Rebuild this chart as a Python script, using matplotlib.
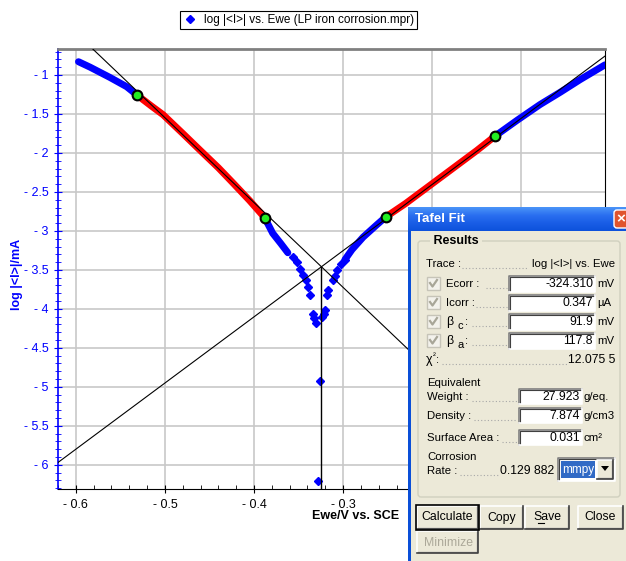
import matplotlib
matplotlib.use('Agg')
import matplotlib.pyplot as plt
import numpy as np
from matplotlib.patches import Rectangle, FancyBboxPatch, Polygon
from matplotlib.lines import Line2D
from matplotlib.ticker import MultipleLocator, FuncFormatter
from matplotlib.colors import LinearSegmentedColormap

plt.rcParams['font.family'] = ['Liberation Sans', 'DejaVu Sans']

# Tafel fit results (from the dialog)
e_corr = -0.32431   # V
i_corr = 0.347e-3   # mA
beta_c = 0.0919     # V/decade
beta_a = 0.1178     # V/decade

cath_e = [-0.597, -0.584, -0.562, -0.543, -0.531]
cath_y = [-0.83, -0.90, -1.03, -1.15, -1.26]
cath_fit_e = [-0.531, -0.515, -0.502, -0.480, -0.461, -0.440, -0.424, -0.405, -0.388]
cath_fit_y = [-1.26, -1.40, -1.51, -1.75, -1.96, -2.19, -2.38, -2.61, -2.83]
cath_tail_e = [-0.388, -0.379, -0.370, -0.362]
cath_tail_y = [-2.83, -3.03, -3.16, -3.28]

# scattered points close to Ecorr
near_e = [-0.356, -0.352, -0.348, -0.345, -0.342, -0.339, -0.337, -0.334, -0.333,
          -0.330, -0.326, -0.328, -0.324, -0.3215, -0.320, -0.318, -0.3165,
          -0.311, -0.309, -0.307, -0.302, -0.298]
near_y = [-3.34, -3.40, -3.49, -3.56, -3.63, -3.72, -3.82, -4.06, -4.12,
          -4.18, -4.92, -6.21, -4.10, -4.06, -4.02, -3.82, -3.76,
          -3.63, -3.58, -3.50, -3.43, -3.37]

anod_e = [-0.298, -0.290, -0.2775, -0.262, -0.252]
anod_y = [-3.37, -3.24, -3.08, -2.92, -2.82]
anod_fit_e = [-0.252, -0.230, -0.210, -0.190, -0.170, -0.150, -0.129]
anod_fit_y = [-2.82, -2.65, -2.48, -2.31, -2.14, -1.97, -1.78]
anod_tail_e = [-0.129, -0.1045, -0.079, -0.056, -0.034, -0.006]
anod_tail_y = [-1.78, -1.58, -1.38, -1.22, -1.06, -0.87]

xlim = (-0.62, -0.006)
ylim = (-6.31, -0.667)

fig = plt.figure(figsize=(6.26, 5.61), dpi=100)
W, H = 626, 561
ax = fig.add_axes([58 / W, 1 - 489 / H, (605 - 58) / W, (489 - 49) / H])

blue = '#0000ff'
red = '#ff0000'
band = dict(lw=5, solid_capstyle='round', solid_joinstyle='round')

ax.plot(cath_e, cath_y, color=blue, **band, zorder=3)
ax.plot(cath_tail_e, cath_tail_y, color=blue, **band, zorder=3)
ax.plot(anod_e, anod_y, color=blue, **band, zorder=3)
ax.plot(anod_tail_e, anod_tail_y, color=blue, **band, zorder=3)
pts, = ax.plot(near_e, near_y, 'D', color=blue, ms=4.5, ls='none', zorder=3,
               label='log |<I>| vs. Ewe (LP iron corrosion.mpr)')
ax.plot(cath_fit_e, cath_fit_y, color=red, **band, zorder=4)
ax.plot(anod_fit_e, anod_fit_y, color=red, **band, zorder=4)

# Tafel lines
log_icorr = np.log10(i_corr)
ex = np.array(xlim)
ax.plot(ex, log_icorr - (ex - e_corr) / beta_c, color='black', lw=0.8, zorder=5)
ax.plot(ex, log_icorr + (ex - e_corr) / beta_a, color='black', lw=0.8, zorder=5)
ax.plot([e_corr, e_corr], [log_icorr, ylim[0]], color='black', lw=1, zorder=5)

# fit limits
lim_e = [cath_fit_e[0], cath_fit_e[-1], anod_fit_e[0], anod_fit_e[-1]]
lim_y = [cath_fit_y[0], cath_fit_y[-1], anod_fit_y[0], anod_fit_y[-1]]
ax.plot(lim_e, lim_y, 'o', ms=7, mfc='#22ee22', mec='black', mew=1.5, zorder=6)

ax.set_xlim(*xlim)
ax.set_ylim(*ylim)
ax.xaxis.set_major_locator(MultipleLocator(0.1))
ax.xaxis.set_minor_locator(MultipleLocator(0.02))
ax.yaxis.set_major_locator(MultipleLocator(0.5))
ax.yaxis.set_minor_locator(MultipleLocator(0.1))
fmt = FuncFormatter(lambda v, p: ('- ' if v < -1e-9 else '') + f'{abs(v):g}')
ax.xaxis.set_major_formatter(fmt)
ax.yaxis.set_major_formatter(fmt)
ax.grid(True, color='#c8c8c8', lw=1.2, zorder=0)
ax.tick_params(axis='y', which='major', direction='inout', length=6, color=blue,
               labelcolor=blue, labelsize=9, pad=4)
ax.tick_params(axis='y', which='minor', direction='inout', length=4, color=blue)
ax.tick_params(axis='x', which='major', direction='inout', length=6, labelsize=9, pad=4)
ax.tick_params(axis='x', which='minor', direction='in', length=3)
ax.spines['left'].set_color(blue)
ax.spines['left'].set_linewidth(1.2)
ax.spines['top'].set_color('#808080')
ax.spines['top'].set_linewidth(2)

fig.text(17 / W, 1 - 274 / H, 'log |<I>|/mA', rotation=90, ha='center', va='center',
         color=blue, fontsize=9, weight='bold')
fig.text(399 / W, 1 - 516 / H, 'Ewe/V vs. SCE', ha='right', va='center',
         fontsize=9, weight='bold')

leg = ax.legend(handles=[pts], loc='center', bbox_to_anchor=(298.5 / W, 1 - 20 / H),
                bbox_transform=fig.transFigure, fontsize=8.5, fancybox=False,
                edgecolor='black', framealpha=1, borderpad=0.25, handlelength=1.2,
                handletextpad=0.6, borderaxespad=0)
leg.get_frame().set_linewidth(0.8)

# ---- Tafel Fit dialog drawn over the chart (pixel coordinates) ----
ov = fig.add_axes([0, 0, 1, 1], zorder=10)
ov.set_xlim(0, W)
ov.set_ylim(H, 0)
ov.axis('off')

body = '#ece9d8'
ov.add_patch(Rectangle((408, 207), 230, 360, fc='#0a4fd8', ec='none'))
grad = np.linspace(0, 1, 24).reshape(-1, 1)
tb = LinearSegmentedColormap.from_list('tb', ['#4a93f8', '#2a6ff0', '#1a5ee6', '#0d52dc'])
ov.imshow(grad, extent=(408, 630, 231, 207), aspect='auto', cmap=tb, zorder=1)
ov.add_patch(Rectangle((411, 231), 220, 340, fc=body, ec='none', zorder=2))
ov.text(415, 219, 'Tafel Fit', color='white', fontsize=9.5, weight='bold',
        ha='left', va='center', zorder=3)
ov.add_patch(FancyBboxPatch((614, 210), 18, 18, boxstyle='round,pad=0,rounding_size=3',
                            fc='#e0542e', ec='white', lw=1, zorder=3))
ov.text(621, 219, '×', color='white', fontsize=11, weight='bold', ha='center',
        va='center', zorder=4)
ov.set_xlim(0, W)
ov.set_ylim(H, 0)

ov.add_patch(FancyBboxPatch((418, 241), 202, 256, boxstyle='round,pad=0,rounding_size=3',
                            fc='none', ec='#d0d0bf', lw=1, zorder=3))
ov.text(430, 241, ' Results ', fontsize=9, weight='bold', ha='left', va='center',
        zorder=4, bbox=dict(fc=body, ec='none', pad=0))

fs = 8.2
dot = dict(color='#a8a8a8', lw=0.8, ls=(0, (1, 2)), zorder=4)


def txt(x, y, s, ha='left', z=8, **kw):
    ov.text(x, y, s, fontsize=kw.pop('fontsize', fs), ha=ha, va='center', zorder=z, **kw)


def leader(x0, x1, y):
    ov.plot([x0, x1], [y + 4, y + 4], **dot)


def sunken(x0, y0, x1, y1, face='white'):
    ov.add_patch(Rectangle((x0, y0), x1 - x0, y1 - y0, fc=face, ec='none', zorder=4))
    ov.plot([x0, x0, x1], [y1, y0, y0], color='#808080', lw=1.2, zorder=5)
    ov.plot([x0 + 1, x0 + 1, x1 - 1], [y1 - 1, y0 + 1, y0 + 1], color='#404040', lw=0.8, zorder=5)
    ov.plot([x0, x1, x1], [y1, y1, y0], color='#ffffff', lw=1.2, zorder=5)


def raised(x0, y0, x1, y1, face=body, outline=False):
    ov.add_patch(Rectangle((x0, y0), x1 - x0, y1 - y0, fc=face, ec='none', zorder=4))
    ov.plot([x0, x0, x1], [y1, y0, y0], color='#ffffff', lw=1.2, zorder=5)
    ov.plot([x0 + 1, x1 - 1, x1 - 1], [y1 - 1, y1 - 1, y0 + 1], color='#a0a0a0', lw=1, zorder=5)
    ov.plot([x0, x1, x1], [y1, y1, y0], color='#404040', lw=1.2, zorder=5)
    if outline:
        ov.add_patch(Rectangle((x0 - 1, y0 - 1), x1 - x0 + 2, y1 - y0 + 2, fc='none',
                               ec='black', lw=1.2, zorder=6))


def checkbox(x, y):
    ov.add_patch(Rectangle((x, y - 7), 13, 13, fc='#f3f2ec', ec='#c6c4b8', lw=1, zorder=5))
    ov.plot([x + 3, x + 5.5, x + 10], [y - 1, y + 2.5, y - 4], color='#a8a698', lw=1.6, zorder=6)


# Trace row
txt(426, 264, 'Trace :')
leader(462, 528, 264)
txt(615, 264, 'log |<I>| vs. Ewe', ha='right')

rows = [(284, 'Ecorr :', '-324.310', 'mV', 486),
        (303, 'Icorr :', '0.347', 'µA', 476),
        (322, None, '91.9', 'mV', 472),
        (341, None, '117.8', 'mV', 472)]
for y, lab, val, unit, dx in rows:
    checkbox(427, y)
    if lab:
        txt(446, y, lab)
    leader(dx, 507, y)
    sunken(509, y - 8, 595, y + 8)
    txt(593, y, val, ha='right', fontsize=8.8)
    txt(597, y, unit)
for y, sub in [(322, 'c'), (341, 'a')]:
    txt(446, y, 'β', fontsize=9)
    txt(458, y + 4, sub, fontsize=8)
    txt(465, y, ':')

txt(426, 360, 'χ', fontsize=9)
txt(433, 356, '²', fontsize=6)
txt(436, 360, ':')
leader(442, 568, 360)
txt(615, 360, '12.075 5', ha='right', fontsize=8.8)

txt(427, 383, 'Equivalent')
rows2 = [(397, 'Weight :', '27.923', 'g/eq.', 472),
         (416, 'Density :', '7.874', 'g/cm3', 474),
         (438, 'Surface Area :', '0.031', 'cm²', 502)]
for y, lab, val, unit, dx in rows2:
    txt(427, y, lab)
    leader(dx, 517, y)
    sunken(519, y - 8, 582, y + 7)
    txt(580, y, val, ha='right', fontsize=8.8)
    txt(584, y, unit)

txt(427, 457, 'Corrosion')
txt(427, 471, 'Rate :')
leader(460, 500, 471)
txt(554, 471, '0.129 882', ha='right', fontsize=8.8)
sunken(558, 458, 615, 481)
ov.add_patch(Rectangle((561, 461), 34, 17, fc='#316ac5', ec='none', zorder=6))
txt(578, 469.5, 'mmpy', ha='center', color='white', fontsize=8.5, z=9)
raised(597, 460, 613, 479)
ov.add_patch(Polygon([[601, 466], [609, 466], [605, 471]], closed=True, fc='black',
                     ec='none', zorder=7))

buttons = [(417, 478, 'Calculate', True), (480, 523, 'Copy', False),
           (525, 569, 'Save', False), (578, 623, 'Close', False)]
for x0, x1, lab, dflt in buttons:
    raised(x0, 506, x1, 529, outline=dflt)
    txt((x0 + x1) / 2, 517.5, lab, ha='center', fontsize=8.8)
ov.plot([538, 544], [523, 523], color='black', lw=0.8, zorder=8)
raised(417, 531, 478, 553)
txt(448.5, 542.5, 'Minimize', ha='center', fontsize=8.8, color='#aca899')

ov.set_xlim(0, W)
ov.set_ylim(H, 0)

fig.savefig('out.png', dpi=100, facecolor='white')
